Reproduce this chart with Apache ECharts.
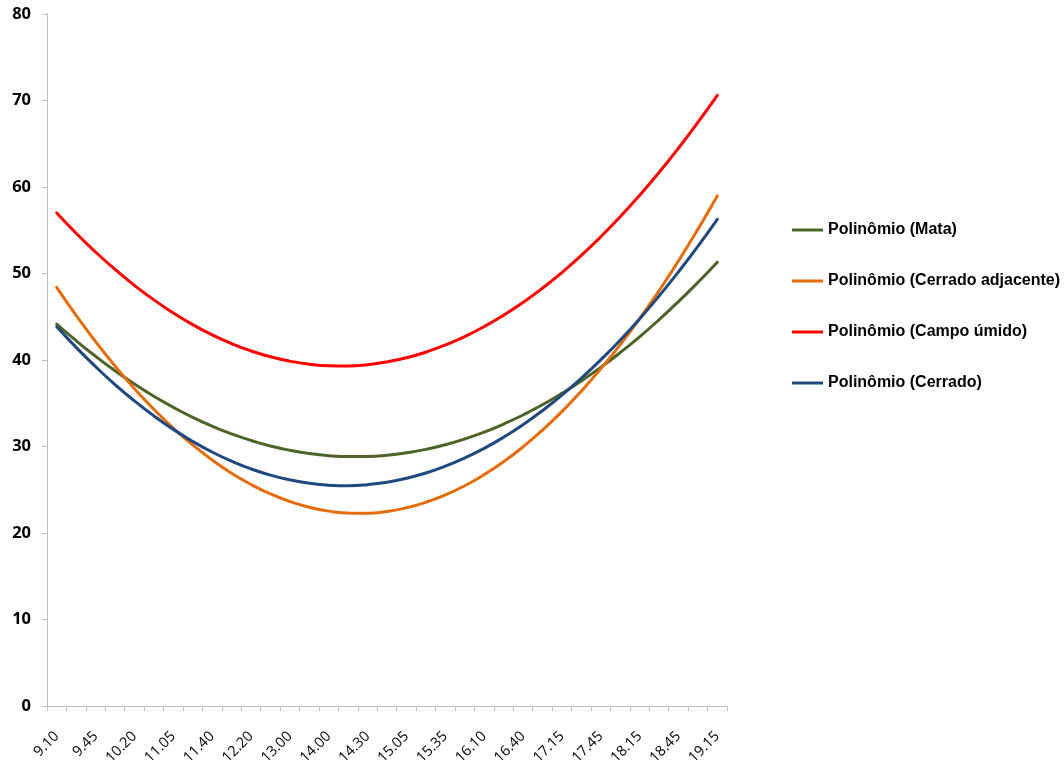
<!DOCTYPE html>
<html>
<head>
<meta charset="utf-8">
<script src="https://cdn.jsdelivr.net/npm/echarts@6/dist/echarts.min.js"></script>
<style>
html,body{margin:0;padding:0;background:#fff;}
#chart{width:1064px;height:769px;}
</style>
</head>
<body>
<div id="chart"></div>
<script>
// 35 categories; every other one is labelled on the axis
const categories = [
  '9.10','','9.45','','10.20','','11.05','','11.40','','12.20','','13.00','','14.00','','14.30','',
  '15.05','','15.35','','16.10','','16.40','','17.15','','17.45','','18.15','','18.45','','19.15'
];
const seriesNames = [
  'Polinômio (Mata)',
  'Polinômio (Cerrado adjacente)',
  'Polinômio (Campo úmido)',
  'Polinômio (Cerrado)'
];
const mata = [44.16,42.23,40.43,38.76,37.22,35.81,34.53,33.37,32.35,31.46,30.70,30.06,29.56,29.19,28.94,28.83,28.84,
  28.99,29.27,29.67,30.20,30.87,31.66,32.59,33.64,34.82,36.14,37.58,39.15,40.85,42.68,44.65,46.74,48.96,51.31];
const cerradoAdj = [48.40,45.15,42.12,39.30,36.69,34.31,32.13,30.18,28.44,26.91,25.61,24.51,23.64,22.98,22.53,22.30,22.29,
  22.49,22.91,23.55,24.40,25.46,26.75,28.24,29.96,31.89,34.03,36.40,38.97,41.76,44.77,48.00,51.44,55.10,58.97];
const campoUmido = [57.00,54.66,52.48,50.47,48.63,46.95,45.44,44.09,42.91,41.90,41.05,40.37,39.86,39.51,39.33,39.31,39.46,
  39.78,40.26,40.91,41.73,42.71,43.86,45.17,46.65,48.30,50.11,52.09,54.24,56.55,59.03,61.67,64.48,67.46,70.60];
const cerrado = [43.85,41.46,39.23,37.16,35.27,33.54,31.98,30.59,29.36,28.30,27.41,26.69,26.14,25.75,25.53,25.47,25.59,
  25.87,26.32,26.93,27.72,28.67,29.78,31.07,32.52,34.14,35.93,37.89,40.01,42.30,44.75,47.38,50.18,53.13,56.26];

const colors = ['#4F6228', '#E46C0A', '#FF0000', '#1F497D'];
const values = [mata, cerradoAdj, campoUmido, cerrado];

const chart = echarts.init(document.getElementById('chart'));
chart.setOption({
  animation: false,
  backgroundColor: '#ffffff',
  grid: { left: 47, right: 337, top: 14, bottom: 63, containLabel: false },
  legend: {
    orient: 'vertical',
    left: 792,
    top: 222,
    padding: 0,
    itemGap: 35,
    itemWidth: 31,
    itemHeight: 3,
    icon: 'rect',
    textStyle: { fontFamily: 'Liberation Sans', fontWeight: 'bold', fontSize: 16, color: '#000' },
    data: seriesNames
  },
  xAxis: {
    type: 'category',
    data: categories,
    boundaryGap: true,
    axisLine: { lineStyle: { color: '#BFBFBF', width: 1 } },
    axisTick: { show: true, interval: 0, length: 5, lineStyle: { color: '#BFBFBF' } },
    axisLabel: { interval: 1, rotate: 45, fontFamily: 'Open Sans', fontSize: 14.5, color: '#000', margin: 28 },
    splitLine: { show: false }
  },
  yAxis: {
    type: 'value',
    min: 0, max: 80, interval: 10,
    axisLine: { show: true, lineStyle: { color: '#BFBFBF', width: 1 } },
    axisTick: { show: true, length: 5, lineStyle: { color: '#BFBFBF' } },
    axisLabel: { fontFamily: 'Open Sans', fontWeight: 'bold', fontSize: 16.5, color: '#000', margin: 16 },
    splitLine: { show: false }
  },
  series: seriesNames.map((n, k) => ({
    name: n,
    type: 'line',
    data: values[k],
    smooth: true,
    showSymbol: false,
    symbol: 'none',
    color: colors[k],
    lineStyle: { width: 3, color: colors[k], cap: 'round' }
  }))
});
</script>
</body>
</html>
